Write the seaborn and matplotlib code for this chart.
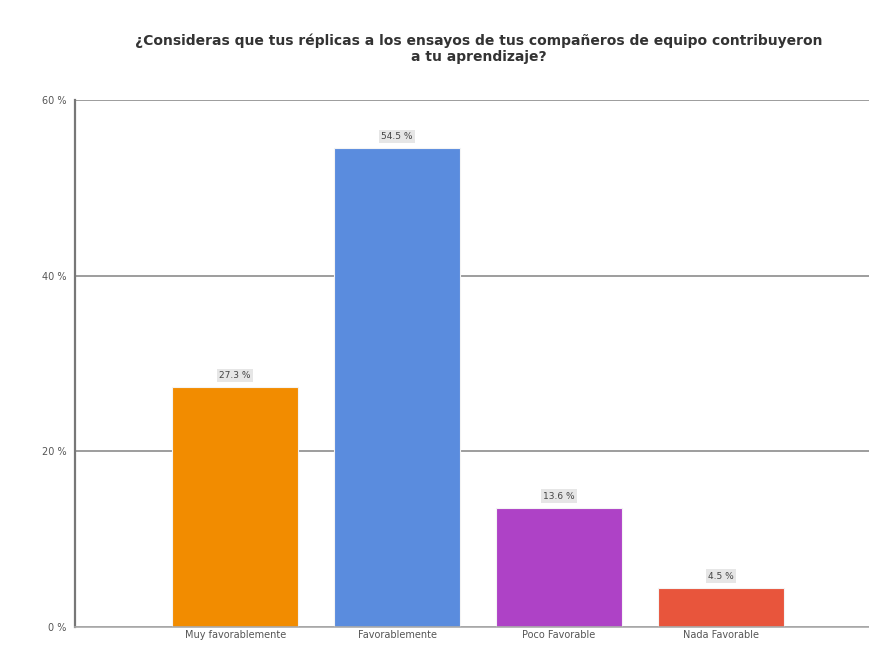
import matplotlib
matplotlib.use("Agg")
import matplotlib.pyplot as plt
import seaborn as sns
import pandas as pd

categories = ["Muy favorablemente", "Favorablemente", "Poco Favorable", "Nada Favorable"]
percentages = [27.3, 54.5, 13.6, 4.5]
bar_colors = ["#F28C00", "#5A8CDE", "#AE42C6", "#E8553C"]
y_ticks = [0, 20, 40, 60]
title = ("¿Consideras que tus réplicas a los ensayos de tus compañeros de equipo contribuyeron\n"
         "a tu aprendizaje?")

sns.set_theme(style="white")
plt.rcParams["font.family"] = ["DejaVu Sans"]

df = pd.DataFrame({"categoria": categories, "porcentaje": percentages})

fig = plt.figure(figsize=(8.7, 6.48), dpi=100)
ax = fig.add_axes([0.086, 0.032, 0.914, 0.814])

sns.barplot(data=df, x="categoria", y="porcentaje", hue="categoria",
            palette=bar_colors, width=0.78, legend=False, ax=ax,
            edgecolor="#f4f4f4", linewidth=0.8, saturation=1)

ax.set_ylim(0, 60)
ax.set_xlim(-0.99, 3.92)
ax.set_yticks(y_ticks)
ax.set_yticklabels([f"{v} %" for v in y_ticks], fontsize=7, color="#555555")
ax.tick_params(axis="x", labelsize=7, colors="#555555", pad=2, length=0)
ax.tick_params(axis="y", pad=6, length=0)
ax.set_xlabel("")
ax.set_ylabel("")
ax.yaxis.grid(True, color="#8c8c8c", linewidth=1.2)
ax.set_axisbelow(True)

for side in ["top", "right"]:
    ax.spines[side].set_visible(False)
ax.spines["left"].set_color("#777777")
ax.spines["left"].set_linewidth(1.6)
ax.spines["bottom"].set_color("#aaaaaa")
ax.spines["bottom"].set_linewidth(1.2)

for patch, val in zip(ax.patches, percentages):
    x = patch.get_x() + patch.get_width() / 2
    ax.text(x, val + 0.8, f"{val} %", ha="center", va="bottom", fontsize=6.5,
            color="#444444",
            bbox=dict(boxstyle="square,pad=0.25", facecolor="#e6e6e6", edgecolor="none"))

fig.text(0.55, 0.925, title, ha="center", va="center", fontsize=10,
         fontweight="bold", color="#333333", linespacing=1.15)

fig.savefig("out.png", dpi=100, facecolor="white")
